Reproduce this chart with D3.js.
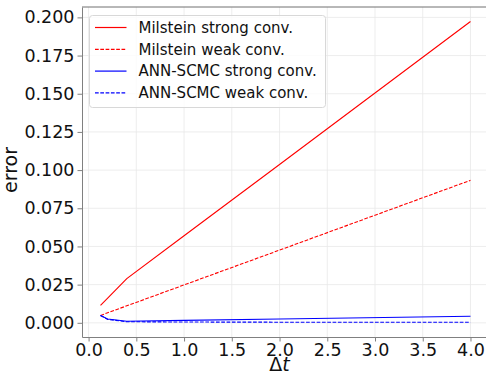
<!DOCTYPE html>
<html>
<head>
<meta charset="utf-8">
<script src="https://cdn.jsdelivr.net/npm/d3@7"></script>
<style>
  body { margin: 0; background: #fff; }
  svg { display: block; font-family: "DejaVu Sans", sans-serif; }
  .grid line { stroke: #e8e8e8; stroke-width: 0.8; }
  .axis path, .axis line { stroke: #808080; }
</style>
</head>
<body>
<div id="chart"></div>
<script>
// step sizes and errors
var dt = [0.125, 0.2, 0.4, 1.0, 2.0, 4.0];
var milsteinStrong = [0.0114, 0.0162, 0.0289, 0.0570, 0.1037, 0.1973];
var milsteinWeak   = [0.0048, 0.0066, 0.0111, 0.0248, 0.0476, 0.0933];
var annStrong      = [0.0048, 0.0025, 0.0010, 0.0016, 0.0025, 0.0043];
var annWeak        = [0.0048, 0.0022, 0.0007, 0.0005, 0.0004, 0.0004];
var xTicks = [0, 0.5, 1, 1.5, 2, 2.5, 3, 3.5, 4];
var yTicks = [0, 0.025, 0.05, 0.075, 0.1, 0.125, 0.15, 0.175, 0.2];

var series = [
    {name: "Milstein strong conv.", values: milsteinStrong, color: "#ff0000", dash: "none"},
    {name: "Milstein weak conv.", values: milsteinWeak, color: "#ff0000", dash: "3.7,1.6"},
    {name: "ANN-SCMC strong conv.", values: annStrong, color: "#0000ff", dash: "none"},
    {name: "ANN-SCMC weak conv.", values: annWeak, color: "#0000ff", dash: "3.7,1.6"}
];

var W = 486, H = 375;
var margin = {top: 7, right: -3, bottom: 38, left: 82},
    width = W - margin.left - margin.right,
    height = H - margin.top - margin.bottom;

var x = d3.scaleLinear().domain([-0.069, 4.194]).range([0, width]);
var y = d3.scaleLinear().domain([-0.0093, 0.2068]).range([height, 0]);

var svg = d3.select("#chart").append("svg")
    .attr("width", W)
    .attr("height", H);

var focus = svg.append("g")
    .attr("transform", "translate(" + margin.left + "," + margin.top + ")");

// grid
focus.append("g").attr("class", "grid")
    .selectAll("line").data(xTicks).enter().append("line")
    .attr("x1", function(d) { return x(d); })
    .attr("x2", function(d) { return x(d); })
    .attr("y1", 0).attr("y2", height);
focus.append("g").attr("class", "grid")
    .selectAll("line").data(yTicks).enter().append("line")
    .attr("y1", function(d) { return y(d); })
    .attr("y2", function(d) { return y(d); })
    .attr("x1", 0).attr("x2", width);

// top spine
focus.append("line")
    .attr("x1", 0).attr("x2", width)
    .attr("y1", 0).attr("y2", 0)
    .attr("stroke", "#707070");

var xAxis = focus.append("g")
    .attr("class", "axis")
    .attr("transform", "translate(0," + height + ")")
    .call(d3.axisBottom(x).tickValues(xTicks).tickSizeInner(4.5).tickSizeOuter(0).tickPadding(3)
        .tickFormat(d3.format(".1f")));

var yAxis = focus.append("g")
    .attr("class", "axis")
    .call(d3.axisLeft(y).tickValues(yTicks).tickSizeInner(4.5).tickSizeOuter(0).tickPadding(3)
        .tickFormat(d3.format(".3f")));

focus.selectAll(".axis")
    .attr("font-size", null)
    .attr("font-family", null);
focus.selectAll(".axis text")
    .style("font-size", "17.5px")
    .style("font-family", "DejaVu Sans")
    .attr("fill", "#111");
xAxis.selectAll("text").attr("dy", "0.64em");

// lines
var line = d3.line()
    .x(function(d) { return x(d[0]); })
    .y(function(d) { return y(d[1]); });

series.forEach(function(s) {
    focus.append("path")
        .datum(dt.map(function(t, i) { return [t, s.values[i]]; }))
        .attr("fill", "none")
        .attr("stroke", s.color)
        .attr("stroke-width", 1.1)
        .attr("stroke-dasharray", s.dash)
        .attr("d", line);
});

// axis labels
svg.append("text")
    .attr("x", margin.left + x(2))
    .attr("y", 371)
    .attr("text-anchor", "middle")
    .style("font-size", "19px")
    .attr("fill", "#111")
    .html("Δ<tspan font-style='italic'>t</tspan>");

svg.append("text")
    .attr("transform", "translate(17," + 170 + ") rotate(-90)")
    .attr("text-anchor", "middle")
    .style("font-size", "19px")
    .attr("fill", "#111")
    .text("error");

// legend
var legend = svg.append("g").attr("transform", "translate(89.5,15.5)");
legend.append("rect")
    .attr("width", 236).attr("height", 92)
    .attr("rx", 3)
    .attr("fill", "#fff").attr("fill-opacity", 0.8)
    .attr("stroke", "#d8d8d8");

var items = legend.selectAll(".legend").data(series).enter().append("g")
    .attr("class", "legend")
    .attr("transform", function(d, i) { return "translate(0," + (12 + i * 21.8) + ")"; });
items.append("line")
    .attr("x1", 5.5).attr("x2", 37)
    .attr("stroke", function(d) { return d.color; })
    .attr("stroke-width", 1.2)
    .attr("stroke-dasharray", function(d) { return d.dash; });
items.append("text")
    .attr("x", 49)
    .attr("dy", "0.35em")
    .style("font-size", "15px")
    .attr("fill", "#111")
    .text(function(d) { return d.name; });
</script>
</body>
</html>
